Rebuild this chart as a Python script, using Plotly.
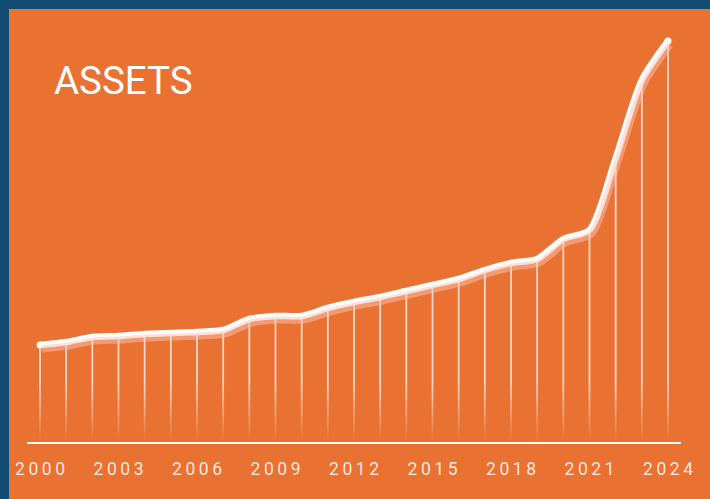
import plotly.graph_objects as go

# ---- data ----
years = list(range(2000, 2025))
assets = [97, 100, 105, 106, 108, 109, 110, 112, 123, 126, 126, 134, 140, 145,
          151, 157, 163, 172, 179, 183, 203, 212, 284, 362, 401]
tick_years = [2000, 2003, 2006, 2009, 2012, 2015, 2018, 2021, 2024]
tick_labels = ["\u2009".join(str(y)) for y in tick_years]
title_text = "ASSETS"

# ---- style ----
ORANGE = "#E97132"
BLUE = "#124B73"
W, H = 710, 499
ML, MR, MT, MB = 27, 29, 9, 57
plot_w = W - ML - MR
plot_h = H - MT - MB
pad = 0.497
x_range = [years[0] - pad, years[-1] + pad]
y_range = [0, plot_h]  # one unit per pixel
x_upp = (x_range[1] - x_range[0]) / plot_w
y_upp = (y_range[1] - y_range[0]) / plot_h
fade_h = 60

fig = go.Figure()

# drop lines
dx, dy = [], []
for x, v in zip(years, assets):
    dx += [x, x, None]
    dy += [v, 0, None]
fig.add_trace(go.Scatter(x=dx, y=dy, mode="lines",
                         line=dict(color="rgba(255,255,255,0.72)", width=1.8),
                         hoverinfo="skip", showlegend=False))

# fade of drop lines near the baseline
fig.add_trace(go.Scatter(
    x=[x_range[0], x_range[1], x_range[1], x_range[0], x_range[0]],
    y=[0, 0, fade_h, fade_h, 0], mode="lines", fill="toself",
    line=dict(width=0, color="rgba(0,0,0,0)"),
    fillgradient=dict(type="vertical",
                      colorscale=[[0, "rgba(233,113,50,1)"], [0.08, "rgba(233,113,50,0.95)"],
                                  [1, "rgba(233,113,50,0)"]]),
    hoverinfo="skip", showlegend=False))

# shadow line (on offset axes)
fig.add_trace(go.Scatter(x=years, y=assets, mode="lines", xaxis="x2", yaxis="y2",
                         line=dict(color="rgba(255,195,180,0.5)", width=7,
                                   shape="spline", smoothing=0.7),
                         hoverinfo="skip", showlegend=False))

# main line
fig.add_trace(go.Scatter(x=years, y=assets, mode="lines",
                         line=dict(color="white", width=6.5, shape="spline", smoothing=0.7),
                         showlegend=False))
fig.add_trace(go.Scatter(x=[years[0], years[-1]], y=[assets[0], assets[-1]], mode="markers",
                         marker=dict(color="white", size=7),
                         hoverinfo="skip", showlegend=False))

sx, sy = 2, 4  # shadow offset in pixels
fig.update_layout(
    width=W, height=H,
    margin=dict(l=ML, r=MR, t=MT, b=MB),
    paper_bgcolor=ORANGE, plot_bgcolor=ORANGE,
    font=dict(family="Roboto", color="white"),
    xaxis=dict(range=x_range, showgrid=False, zeroline=False,
               showline=True, linecolor="white", linewidth=2,
               tickmode="array", tickvals=tick_years, ticktext=tick_labels,
               ticks="outside", ticklen=10, tickcolor="rgba(0,0,0,0)",
               tickfont=dict(family="Roboto", size=17.5, color="rgba(255,255,255,0.85)")),
    yaxis=dict(range=y_range, visible=False),
    xaxis2=dict(range=[x_range[0] - sx * x_upp, x_range[1] - sx * x_upp],
                overlaying="x", visible=False),
    yaxis2=dict(range=[y_range[0] + sy * y_upp, y_range[1] + sy * y_upp],
                overlaying="y", visible=False),
    shapes=[
        dict(type="rect", xref="paper", yref="paper",
             x0=-ML / plot_w, x1=1 + MR / plot_w,
             y0=1, y1=1 + MT / plot_h, fillcolor=BLUE, line=dict(width=0), layer="above"),
        dict(type="rect", xref="paper", yref="paper",
             x0=-ML / plot_w, x1=-(ML - 9) / plot_w,
             y0=-MB / plot_h, y1=1 + MT / plot_h, fillcolor=BLUE, line=dict(width=0), layer="above"),
    ],
    annotations=[dict(text=title_text, xref="paper", yref="paper",
                      x=(52 - ML) / plot_w, y=(442 - 80) / plot_h,
                      xanchor="left", yanchor="middle", showarrow=False,
                      font=dict(family="Roboto", size=38.5, color="white"))],
)

fig.write_html("out.html", config={"displayModeBar": False},
               post_script="document.body.style.margin='0';document.body.style.overflow='hidden';")
